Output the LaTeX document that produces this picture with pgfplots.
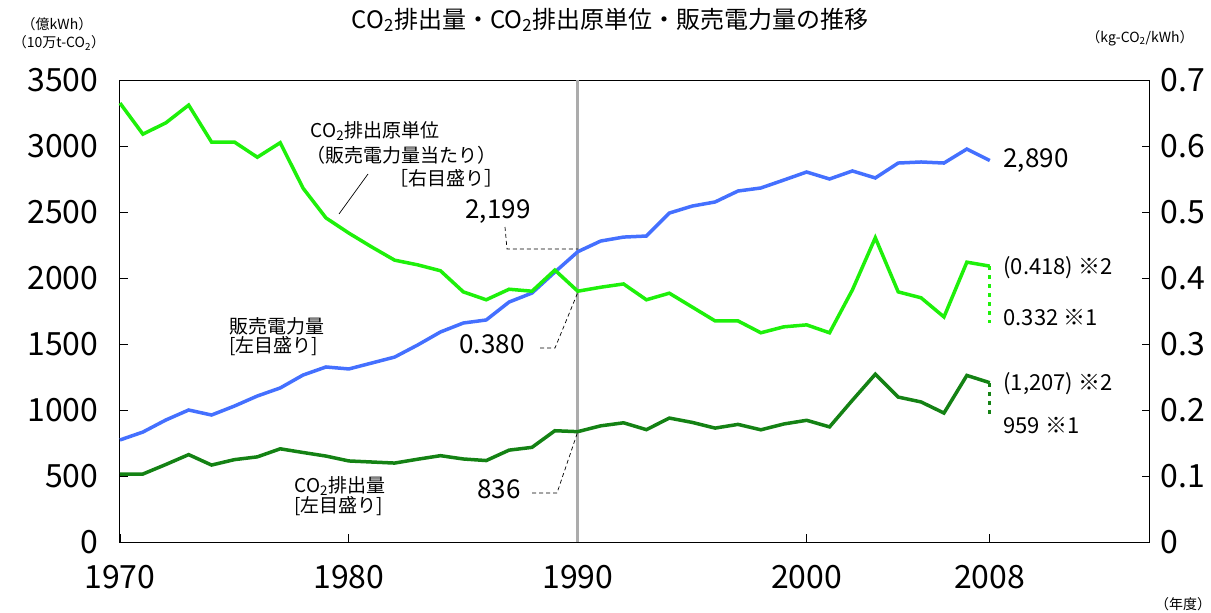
\documentclass[border=0pt]{standalone}
\usepackage{pgfplots}
\pgfplotsset{compat=1.18}
\usepackage{pgfplotstable}
\usepackage{fontspec}
\setmainfont{Noto Sans CJK JP}
\definecolor{blueL}{RGB}{68,112,255}
\definecolor{brightG}{RGB}{30,240,10}
\definecolor{darkG}{RGB}{20,130,20}
\newcommand{\fs}[1]{\fontsize{#1}{#1}\selectfont}
\newcommand{\cotwo}{CO\textsubscript{2}}

\pgfplotstableread{
year sales
1970 773
1971 833
1972 924
1973 1000
1974 962
1975 1030
1976 1106
1977 1167
1978 1265
1979 1326
1980 1311
1981 1356
1982 1401
1983 1492
1984 1591
1985 1659
1986 1682
1987 1818
1988 1886
1989 2045
1990 2199
1991 2280
1992 2310
1993 2318
1994 2492
1995 2545
1996 2576
1997 2659
1998 2682
1999 2742
2000 2803
2001 2750
2002 2811
2003 2758
2004 2871
2005 2879
2006 2871
2007 2977
2008 2890
}\salesdata

\pgfplotstableread{
year emis
1970 514
1971 515
1972 587
1973 662
1974 583
1975 624
1976 645
1977 706
1978 678
1979 651
1980 614
1981 606
1982 598
1983 627
1984 654
1985 629
1986 617
1987 696
1988 717
1989 843
1990 836
1991 880
1992 903
1993 851
1994 939
1995 906
1996 863
1997 891
1998 850
1999 894
2000 922
2001 872
2002 1074
2003 1271
2004 1098
2005 1061
2006 977
2007 1262
2008 1207
}\emisdata

\pgfplotstableread{
year inten
1970 0.665
1971 0.618
1972 0.635
1973 0.662
1974 0.606
1975 0.606
1976 0.583
1977 0.605
1978 0.536
1979 0.491
1980 0.468
1981 0.447
1982 0.427
1983 0.420
1984 0.411
1985 0.379
1986 0.367
1987 0.383
1988 0.380
1989 0.412
1990 0.380
1991 0.386
1992 0.391
1993 0.367
1994 0.377
1995 0.356
1996 0.335
1997 0.335
1998 0.317
1999 0.326
2000 0.329
2001 0.317
2002 0.382
2003 0.461
2004 0.379
2005 0.370
2006 0.341
2007 0.424
2008 0.418
}\intendata

\begin{document}
\begin{tikzpicture}[x=1pt,y=1pt]
\begin{axis}[
  at={(120pt,-542pt)}, anchor=south west,
  scale only axis, width=1030pt, height=462pt,
  xmin=1970, xmax=2015, ymin=0, ymax=3500,
  xtick={1970,1980,1990,2000,2008},
  ytick={0,500,1000,1500,2000,2500,3000,3500},
  ytick pos=left, xtick pos=bottom,
  tick align=inside, major tick length=8pt,
  tick style={black, line width=0.8pt},
  axis line style={black, line width=1pt},
  /pgf/number format/assume math mode=true,
  /pgf/number format/1000 sep={},
  ticklabel style={font=\fs{32}},
  yticklabel style={xshift=-18pt},
  xticklabel style={yshift=-20pt},
  clip=false,
]
\addplot[gray!65, line width=3pt] coordinates {(1990,0)(1990,3500)};
\addplot[blueL, line width=3.5pt] table[x=year,y=sales] {\salesdata};
\addplot[darkG, line width=3.5pt] table[x=year,y=emis] {\emisdata};
\addplot[darkG, line width=3pt, dash pattern=on 4pt off 5pt] coordinates {(2008,1207)(2008,959)};
\end{axis}
\begin{axis}[
  at={(120pt,-542pt)}, anchor=south west,
  scale only axis, width=1030pt, height=462pt,
  xmin=1970, xmax=2015, ymin=0, ymax=0.7,
  hide x axis, axis y line*=right,
  ytick={0,0.1,0.2,0.3,0.4,0.5,0.6,0.7},
  ytick pos=right,
  tick align=inside, major tick length=8pt,
  tick style={black, line width=0.8pt},
  axis line style={black, line width=1pt},
  /pgf/number format/assume math mode=true,
  yticklabel style={font=\fs{32}, xshift=7pt, /pgf/number format/.cd, fixed, precision=1},
  clip=false,
]
\addplot[brightG, line width=3.5pt] table[x=year,y=inten] {\intendata};
\addplot[brightG, line width=3pt, dash pattern=on 4pt off 5pt] coordinates {(2008,0.418)(2008,0.332)};
\end{axis}

% titles and units
\node[font=\fs{24}] at (610,-20) {\cotwo 排出量・\cotwo 排出原単位・販売電力量の推移};
\node[font=\fs{14}] at (57,-24) {（億kWh）};
\node[font=\fs{14}] at (59,-43) {（10万t-\cotwo）};
\node[font=\fs{14}] at (1140,-38) {（kg-\cotwo/kWh）};
\node[font=\fs{14}] at (1183,-604) {（年度）};

% intensity label
\node[font=\fs{19}] at (375,-131) {\cotwo 排出原単位};
\node[font=\fs{19}] at (401,-155) {（販売電力量当たり）};
\node[font=\fs{19}] at (446,-178) {［右目盛り］};
\draw[black, line width=0.7pt] (368,-174) -- (339,-214);

% sales label
\node[font=\fs{19}, anchor=west, align=left] at (226,-337) {販売電力量\\{[}左目盛り{]}};
% emissions label
\node[font=\fs{19}, anchor=west, align=left] at (291,-496) {\cotwo 排出量\\{[}左目盛り{]}};

% 1990 values
\node[font=\fs{26}] at (498,-212) {2,199};
\draw[black, line width=0.7pt, dash pattern=on 4pt off 3pt] (505,-227) -- (507,-249) -- (578,-249);
\node[font=\fs{26}] at (492,-344) {0.380};
\draw[black, line width=0.7pt, dash pattern=on 4pt off 3pt] (540,-348) -- (555,-348) -- (578,-292);
\node[font=\fs{26}] at (499,-489) {836};
\draw[black, line width=0.7pt, dash pattern=on 4pt off 3pt] (532,-493) -- (557,-493) -- (578,-431);

% 2008 values
\node[font=\fs{26}, anchor=west] at (1000,-161) {2,890};
\node[font=\fs{22}, anchor=west] at (1000,-268) {(0.418) ※2};
\node[font=\fs{22}, anchor=west] at (1000,-318) {0.332 ※1};
\node[font=\fs{22}, anchor=west] at (1000,-384) {(1,207) ※2};
\node[font=\fs{22}, anchor=west] at (1000,-425) {959 ※1};

\pgfresetboundingbox
\useasboundingbox (0,0) rectangle (1211,-613);
\end{tikzpicture}
\end{document}
